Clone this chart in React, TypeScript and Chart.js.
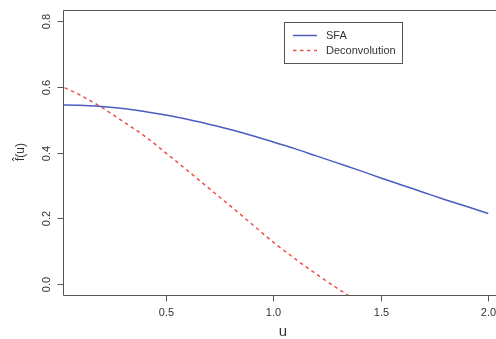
import React, { useEffect, useRef } from "react";
import { Chart, registerables } from "chart.js";

Chart.register(...registerables);

const uValues = [0.0, 0.1, 0.2, 0.3, 0.4, 0.5, 0.6, 0.7, 0.8, 0.9, 1.0, 1.1, 1.2, 1.3, 1.4, 1.5, 1.6, 1.7, 1.8, 1.9, 2.0];
const sfaValues = [0.545, 0.544, 0.540, 0.534, 0.525, 0.514, 0.501, 0.486, 0.470, 0.452, 0.432, 0.412, 0.390, 0.368, 0.346, 0.323, 0.301, 0.279, 0.257, 0.236, 0.215];
const deconvValues = [0.606, 0.575, 0.538, 0.495, 0.451, 0.399, 0.346, 0.292, 0.238, 0.183, 0.128, 0.078, 0.031, -0.013, -0.055, null, null, null, null, null, null];
const xTicks = [0.5, 1.0, 1.5, 2.0];
const yTicks = [0.0, 0.2, 0.4, 0.6, 0.8];
const seriesNames = ["SFA", "Deconvolution"];

const BLUE = "#4a5cc0";
const RED = "#ee5048";
const AXIS = "#555555";
const TEXT = "#333333";
const FONT = "'Liberation Sans', Arial, sans-serif";

const rPlotPlugin = {
  id: "rPlot",
  afterDraw(chart: any) {
    const { ctx, chartArea, scales } = chart;
    const xs = scales.x;
    const ys = scales.y;
    const { left, top, right, bottom } = chartArea;
    ctx.save();
    ctx.strokeStyle = AXIS;
    ctx.lineWidth = 1;
    // box
    ctx.beginPath();
    ctx.moveTo(right + 10, top + 0.5);
    ctx.lineTo(left + 0.5, top + 0.5);
    ctx.lineTo(left + 0.5, bottom + 0.5);
    ctx.lineTo(right + 10, bottom + 0.5);
    ctx.stroke();

    ctx.fillStyle = TEXT;
    ctx.font = `11px ${FONT}`;
    // x ticks
    ctx.textAlign = "center";
    ctx.textBaseline = "middle";
    for (const t of xTicks) {
      const px = Math.round(xs.getPixelForValue(t)) + 0.5;
      ctx.beginPath();
      ctx.moveTo(px, bottom + 0.5);
      ctx.lineTo(px, bottom + 6.5);
      ctx.stroke();
      ctx.fillText(t.toFixed(1), px, bottom + 18);
    }
    // y ticks
    for (const t of yTicks) {
      const py = Math.round(ys.getPixelForValue(t)) + 0.5;
      ctx.beginPath();
      ctx.moveTo(left + 0.5, py);
      ctx.lineTo(left - 5.5, py);
      ctx.stroke();
      ctx.save();
      ctx.translate(left - 16.5, py);
      ctx.rotate(-Math.PI / 2);
      ctx.fillText(t.toFixed(1), 0, 0);
      ctx.restore();
    }
    // axis titles
    ctx.font = `15px ${FONT}`;
    ctx.fillText("u", 283, bottom + 37);
    ctx.save();
    ctx.font = `12px ${FONT}`;
    ctx.translate(21, 152);
    ctx.rotate(-Math.PI / 2);
    ctx.fillText("f\u0302(u)", 0, 0);
    ctx.restore();

    // legend
    const lx = 284.5, ly = 22.5, lw = 118, lh = 41;
    ctx.strokeStyle = AXIS;
    ctx.strokeRect(lx, ly, lw, lh);
    ctx.font = `11px ${FONT}`;
    ctx.textAlign = "left";
    const rows = [
      { name: seriesNames[0], color: BLUE, dash: [] as number[], y: 35 },
      { name: seriesNames[1], color: RED, dash: [3.5, 3.5], y: 50 },
    ];
    for (const r of rows) {
      ctx.strokeStyle = r.color;
      ctx.lineWidth = 1.5;
      ctx.setLineDash(r.dash);
      ctx.beginPath();
      ctx.moveTo(293, r.y + 0.5);
      ctx.lineTo(317, r.y + 0.5);
      ctx.stroke();
      ctx.setLineDash([]);
      ctx.fillStyle = TEXT;
      ctx.fillText(r.name, 326, r.y + 0.5);
    }
    ctx.restore();
  },
};

export default function App() {
  const canvasRef = useRef<HTMLCanvasElement | null>(null);

  useEffect(() => {
    document.body.style.margin = "0";
    const canvas = canvasRef.current;
    if (!canvas) return;
    const chart = new Chart(canvas, {
      type: "line",
      data: {
        datasets: [
          {
            label: seriesNames[0],
            data: uValues.map((u, i) => ({ x: u, y: sfaValues[i] })),
            borderColor: BLUE,
            borderWidth: 1.5,
            pointRadius: 0,
            cubicInterpolationMode: "monotone",
            fill: false,
          },
          {
            label: seriesNames[1],
            data: uValues
              .map((u, i) => ({ x: u, y: deconvValues[i] }))
              .filter((p) => p.y !== null) as any,
            borderColor: RED,
            borderWidth: 1.5,
            borderDash: [3.5, 3.5],
            pointRadius: 0,
            cubicInterpolationMode: "monotone",
            fill: false,
          },
        ],
      },
      options: {
        responsive: false,
        animation: false,
        layout: { padding: { left: 63, top: 10, right: 0, bottom: 44 } },
        plugins: { legend: { display: false }, tooltip: { enabled: false } },
        scales: {
          x: {
            type: "linear",
            min: 0.022,
            max: 2.036,
            display: false,
          },
          y: {
            type: "linear",
            min: -0.0325,
            max: 0.833,
            display: false,
          },
        },
      },
      plugins: [rPlotPlugin],
    });
    return () => chart.destroy();
  }, []);

  return (
    <div style={{ position: "absolute", left: 0, top: 0, width: 496, height: 339, background: "#fff" }}>
      <canvas ref={canvasRef} width={496} height={339} />
    </div>
  );
}
